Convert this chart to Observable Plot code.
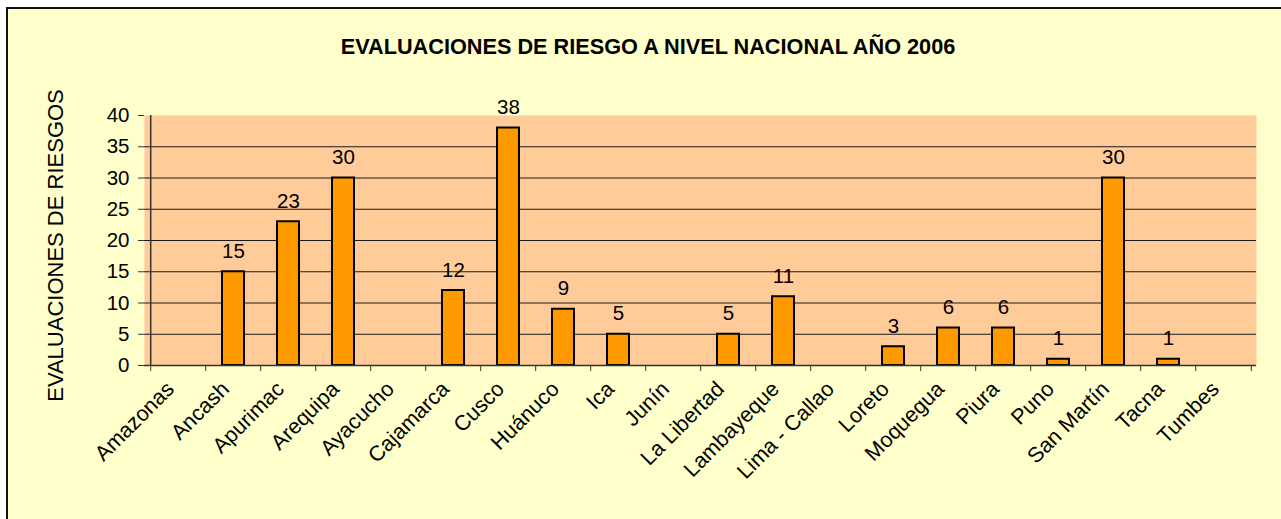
<!DOCTYPE html>
<html>
<head>
<meta charset="utf-8">
<script src="https://cdn.jsdelivr.net/npm/d3@7"></script>
<script src="https://cdn.jsdelivr.net/npm/@observablehq/plot@0.6"></script>
<style>
  html, body { margin: 0; padding: 0; background: #ffffff; overflow: hidden; }
  #frame {
    position: absolute; left: 6px; top: 7px; width: 1300px; height: 530px;
    border: 2px solid #111; background: #FFFFCC; box-sizing: border-box;
  }
  #title {
    position: absolute; left: 648px; top: 35px; transform: translateX(-50%);
    font-family: Arial, "Liberation Sans", sans-serif; font-weight: bold;
    font-size: 21.7px; line-height: 24px; white-space: nowrap; color: #000;
  }
  #chart { position: absolute; left: 0; top: 0; }
  #chart svg { background: transparent; overflow: visible; }
</style>
</head>
<body>
<div id="frame"></div>
<div id="title">EVALUACIONES DE RIESGO A NIVEL NACIONAL AÑO 2006</div>
<div id="chart"></div>
<script>
const titleText = "EVALUACIONES DE RIESGO A NIVEL NACIONAL AÑO 2006";
const yLabel = "EVALUACIONES DE RIESGOS";
const regions = ["Amazonas", "Ancash", "Apurimac", "Arequipa", "Ayacucho", "Cajamarca", "Cusco", "Huánuco", "Ica", "Junín", "La Libertad", "Lambayeque", "Lima - Callao", "Loreto", "Moquegua", "Piura", "Puno", "San Martín", "Tacna", "Tumbes"];
const evaluations = [0, 15, 23, 30, 0, 12, 38, 9, 5, 0, 5, 11, 0, 3, 6, 6, 1, 30, 1, 0];
const yTicks = [0, 5, 10, 15, 20, 25, 30, 35, 40];
const gridValues = [5, 10, 15, 20, 25, 30, 35];

const data = regions.map((r, i) => ({region: r, value: evaluations[i]}));
const nonZero = data.filter(d => d.value > 0);

const W = 1281, H = 519;
const mL = 144, mR = 25, mT = 115, mB = 154;
const step = (W - mL - mR) / regions.length;
const font = "Arial, 'Liberation Sans', sans-serif";

const chart = Plot.plot({
  width: W,
  height: H,
  marginLeft: mL,
  marginRight: mR,
  marginTop: mT,
  marginBottom: mB,
  style: {fontFamily: font, fontSize: "20px", color: "#000", background: "transparent", overflow: "visible"},
  x: {domain: regions, paddingInner: 0.6, paddingOuter: 0.3, axis: null},
  y: {domain: [0, 40], axis: null},
  marks: [
    Plot.frame({fill: "#FFCC99", stroke: null}),
    Plot.ruleY(gridValues, {stroke: "#1a1a1a", strokeWidth: 1}),
    Plot.barY(nonZero, {x: "region", y: "value", fill: "#FF9900", stroke: "#000", strokeWidth: 2}),
    Plot.ruleY([0], {stroke: "#333", strokeWidth: 1.5}),
    Plot.axisY({ticks: yTicks, tickSize: 6, tickPadding: 9, fontSize: 20.5, stroke: "#333", label: null}),
    Plot.axisX({ticks: regions, tickSize: 6, text: null, dx: -step / 2, stroke: "#333", label: null}),
    Plot.axisX({ticks: [regions[regions.length - 1]], tickSize: 6, text: null, dx: step / 2, stroke: "#333", label: null}),
    Plot.ruleX([regions[0]], {dx: -step / 2, y1: 0, y2: 40, stroke: "#333", strokeWidth: 1.5}),
    Plot.axisX({ticks: regions, tickSize: 0, tickRotate: -45, tickPadding: 20, dx: -8, fontSize: 21.5, label: null}),
    Plot.text(nonZero, {x: "region", y: "value", text: d => String(d.value), dy: -14, lineAnchor: "bottom", fontSize: 20.5, fill: "#000"}),
    Plot.text([yLabel], {frameAnchor: "left", textAnchor: "middle", rotate: -90, dx: -89, dy: 5, fontSize: 22, fill: "#000", text: d => d})
  ]
});
document.getElementById("chart").appendChild(chart);
</script>
</body>
</html>
